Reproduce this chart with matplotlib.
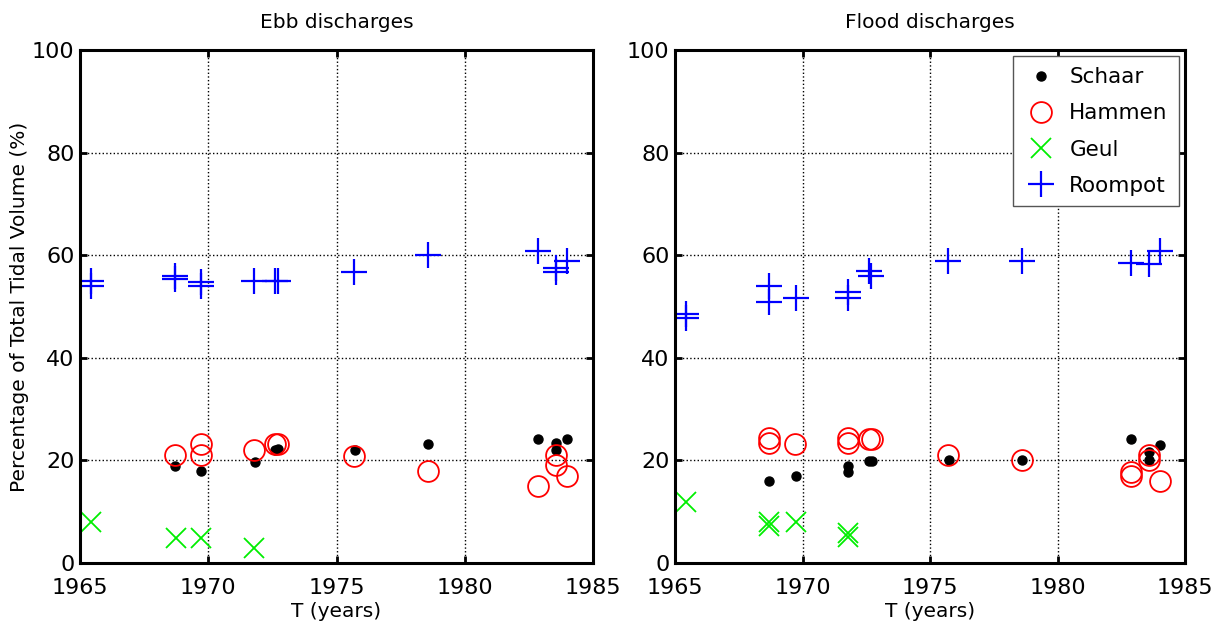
#!/usr/bin/env python3
"""Ebb / flood discharge split per channel, as a share of the total tidal volume."""

import matplotlib
matplotlib.use("Agg")
import matplotlib.pyplot as plt

# --- Ebb discharges (left panel) ---
ebb_schaar_t = [1968.70, 1969.71, 1971.81, 1972.62, 1972.70, 1975.71, 1978.58, 1982.84, 1983.55, 1983.55, 1983.98]
ebb_schaar_v = [19.0, 17.9, 19.7, 22.1, 22.3, 22.0, 23.1, 24.1, 23.3, 22.1, 24.1]

ebb_hammen_t = [1968.70, 1969.71, 1969.71, 1971.80, 1972.60, 1972.70, 1975.70, 1978.55, 1982.84, 1983.55, 1983.55, 1983.98]
ebb_hammen_v = [21.0, 23.1, 21.0, 22.0, 23.1, 23.2, 20.9, 18.0, 15.0, 21.0, 19.1, 16.9]

ebb_geul_t = [1965.44, 1968.73, 1969.71, 1971.78]
ebb_geul_v = [8.0, 4.9, 4.9, 2.95]

ebb_roompot_t = [1965.44, 1965.44, 1968.70, 1968.70, 1969.71, 1969.71, 1971.80, 1972.62, 1972.70, 1975.70, 1978.58, 1982.84, 1983.55, 1983.55, 1983.98]
ebb_roompot_v = [55.0, 54.0, 56.0, 55.3, 54.8, 54.0, 55.0, 55.0, 55.0, 56.8, 60.0, 60.8, 57.5, 56.7, 58.9]

# --- Flood discharges (right panel) ---
fl_schaar_t = [1968.70, 1969.73, 1971.79, 1971.79, 1972.62, 1972.72, 1975.73, 1978.60, 1982.89, 1983.58, 1983.58, 1984.02]
fl_schaar_v = [15.9, 16.9, 18.9, 17.8, 19.9, 19.9, 20.0, 20.0, 24.1, 21.6, 20.0, 23.0]

fl_hammen_t = [1968.70, 1968.70, 1969.70, 1971.79, 1971.79, 1972.60, 1972.72, 1975.70, 1978.60, 1982.87, 1982.87, 1983.58, 1983.58, 1984.00]
fl_hammen_v = [24.3, 23.3, 23.1, 24.3, 23.3, 24.1, 24.1, 21.1, 20.0, 17.7, 16.9, 21.0, 20.0, 15.9]

fl_geul_t = [1965.44, 1968.70, 1968.70, 1969.73, 1971.79, 1971.79]
fl_geul_v = [11.9, 8.0, 7.2, 7.9, 5.9, 5.1]

fl_roompot_t = [1965.44, 1965.44, 1968.68, 1968.68, 1969.73, 1971.79, 1971.79, 1972.62, 1972.68, 1975.70, 1978.60, 1982.89, 1983.58, 1984.00]
fl_roompot_v = [48.6, 47.7, 53.9, 50.8, 51.7, 52.8, 51.7, 56.9, 55.9, 58.9, 58.9, 58.4, 58.2, 60.8]

x_ticks = [1965, 1970, 1975, 1980, 1985]
y_ticks = [0, 20, 40, 60, 80, 100]

plt.rcParams["font.family"] = ["DejaVu Sans"]
FS = 16


def draw_panel(ax, schaar, hammen, geul, roompot, title):
    ax.plot(*schaar, "o", color="black", ms=6.5, ls="none", label="Schaar")
    ax.plot(*hammen, "o", mfc="none", mec="red", ms=15, mew=1.3, ls="none", label="Hammen")
    ax.plot(*geul, "x", color="#00ee00", ms=14, mew=1.3, ls="none", label="Geul")
    ax.plot(*roompot, "+", color="blue", ms=19, mew=1.6, ls="none", label="Roompot")

    ax.set_xlim(1965, 1985)
    ax.set_ylim(0, 100)
    ax.set_xticks(x_ticks)
    ax.set_yticks(y_ticks)
    ax.grid(True, color="black", ls=":", lw=1.0)
    ax.tick_params(direction="in", length=5, width=2, top=True, right=True,
                   labelsize=FS)
    ax.tick_params(axis="x", pad=11)
    ax.tick_params(axis="y", pad=4)
    for sp in ax.spines.values():
        sp.set_linewidth(2.2)
    ax.set_title(title, fontsize=14.5, pad=16)
    ax.set_xlabel("T (years)", fontsize=14.5, labelpad=3)


fig = plt.figure(figsize=(12.23, 6.30), dpi=100)
ax1 = fig.add_axes([80 / 1223, 67 / 630, 513 / 1223, 513 / 630])
ax2 = fig.add_axes([675 / 1223, 67 / 630, 510 / 1223, 513 / 630])

draw_panel(ax1, (ebb_schaar_t, ebb_schaar_v), (ebb_hammen_t, ebb_hammen_v),
           (ebb_geul_t, ebb_geul_v), (ebb_roompot_t, ebb_roompot_v), "Ebb discharges")
draw_panel(ax2, (fl_schaar_t, fl_schaar_v), (fl_hammen_t, fl_hammen_v),
           (fl_geul_t, fl_geul_v), (fl_roompot_t, fl_roompot_v), "Flood discharges")

ax1.set_ylabel("Percentage of Total Tidal Volume (%)", fontsize=14.5, labelpad=2)

# legend only shows one marker per series
leg = ax2.legend(loc="upper right", fontsize=15.5, numpoints=1, fancybox=False,
                 framealpha=1, edgecolor="#555555", borderaxespad=0.3,
                 handlelength=1.6, handletextpad=0.5, labelspacing=0.75,
                 borderpad=0.5)
leg.get_frame().set_linewidth(1.0)

fig.savefig("out.png", dpi=100)
